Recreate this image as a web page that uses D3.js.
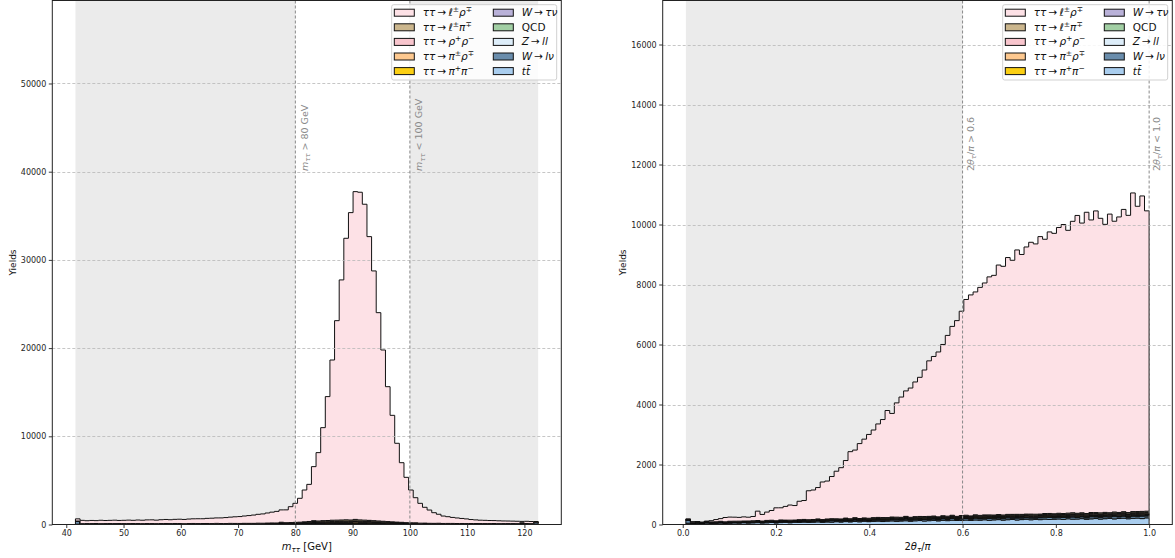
<!DOCTYPE html>
<html>
<head>
<meta charset="utf-8">
<script src="https://cdn.jsdelivr.net/npm/d3@7"></script>
<style>
  html, body { margin: 0; padding: 0; background: #fff; }
  svg { display: block; font-family: "DejaVu Sans", sans-serif; }
</style>
</head>
<body>
<svg id="chart" width="1175" height="558"></svg>
<script>
// ----------------------------------------------------------------------------
// Process definitions (legend order) and their fill colours
// ----------------------------------------------------------------------------
const processLabels = [
  [["ττ", "i"], ["\u2009→\u2009", ""], ["ℓ", "i"], ["±", "sup"], ["ρ", "i"], ["∓", "sup"]],
  [["ττ", "i"], ["\u2009→\u2009", ""], ["ℓ", "i"], ["±", "sup"], ["π", "i"], ["∓", "sup"]],
  [["ττ", "i"], ["\u2009→\u2009", ""], ["ρ", "i"], ["+", "sup"], ["ρ", "i"], ["−", "sup"]],
  [["ττ", "i"], ["\u2009→\u2009", ""], ["π", "i"], ["±", "sup"], ["ρ", "i"], ["∓", "sup"]],
  [["ττ", "i"], ["\u2009→\u2009", ""], ["π", "i"], ["+", "sup"], ["π", "i"], ["−", "sup"]],
  [["W", "i"], ["\u2009→\u2009", ""], ["τν", "i"]],
  [["QCD", ""]],
  [["Z", "i"], ["\u2009→\u2009", ""], ["ll", "i"]],
  [["W", "i"], ["\u2009→\u2009", ""], ["lν", "i"]],
  [["t", "i"], ["t\u0304", "i"]]
];
const processColors = [
  "#fde1e6", "#cbb68d", "#f8c5cd", "#fdc88f", "#fbcf13",
  "#b9b1d8", "#a2cfa4", "#ddedf9", "#6a8dac", "#a9cdee"
];
// stacking order from the bottom up (indices into the lists above)
const stackOrder = [9, 8, 7, 6, 5, 4, 3, 2, 1, 0];

// ----------------------------------------------------------------------------
// m_tautau histogram: 100 bins
// ----------------------------------------------------------------------------
const massRange = [41.6, 122.4];
const massBins = 100;
const massTicks = [40, 50, 60, 70, 80, 90, 100, 110, 120];
const massYTicks = [0, 10000, 20000, 30000, 40000, 50000];
const massYMax = 59410;
const massCuts = [80, 100];
const massCutLabels = [
  [["m", "i"], ["ττ", "isub"], [" > 80 GeV", ""]],
  [["m", "i"], ["ττ", "isub"], [" < 100 GeV", ""]]
];
const massAxisLabel = [["m", "i"], ["ττ", "isub"], [" [GeV]", ""]];

const massLRho = [
  245,376,328,359,325,384,350,364,389,352,
  375,395,365,405,385,415,425,395,435,455,
  440,470,490,480,510,530,550,540,580,610,
  620,640,680,710,750,780,830,880,940,1005,
  1055,1140,1225,1315,1400,1455,1802,2159,2708,3608,
  4208,6130,7750,10544,14047,18163,22614,27217,31922,34849,
  37161,37149,35815,32170,28314,23616,19419,15295,12076,8936,
  6761,5138,3716,2851,2246,1792,1503,1208,1019,841,
  763,680,630,570,530,450,410,380,370,350,
  330,320,300,290,280,270,160,250,240,70
];
const massLPi = [
  12,10,14,11,13,9,12,15,11,13, 10,14,12,11,15,13,10,12,14,11,
  13,15,12,10,14,16,13,12,15,14, 16,13,17,15,18,16,19,21,20,23,
  25,27,30,33,36,38,44,50,58,70, 82,95,108,120,132,140,148,152,158,150,
  162,155,148,140,128,116,104,92,80,68, 58,50,43,37,32,28,25,22,20,19,
  18,16,17,15,14,15,13,14,12,13, 12,11,13,12,10,12,11,13,10,12
];
const massRhoRho = [
  6,5,7,5,6,4,6,7,5,6, 5,7,6,5,7,6,5,6,7,5,
  6,7,6,5,7,8,6,6,7,7, 8,6,8,7,9,8,9,10,10,11,
  12,13,15,16,18,19,22,25,29,35, 41,47,54,60,66,70,74,76,79,75,
  81,77,74,70,64,58,52,46,40,34, 29,25,21,18,16,14,12,11,10,9,
  9,8,8,7,7,7,6,7,6,6, 6,5,6,6,5,6,5,6,5,6
];
const massPiRho = [
  5,6,5,7,5,6,5,6,7,5, 6,5,7,6,5,6,7,5,6,6,
  7,5,6,7,6,5,7,6,8,7, 7,8,7,9,8,9,10,9,11,12,
  12,14,15,17,18,20,23,26,30,36, 42,48,55,61,67,72,75,78,80,82,
  140,88,80,74,66,60,54,47,41,35, 30,25,22,19,16,14,12,11,10,9,
  9,8,8,7,7,6,7,6,6,6, 5,6,5,6,5,5,6,5,5,6
];
const massPiPi = [
  2,3,2,3,2,2,3,2,3,2, 3,2,2,3,2,3,2,3,2,2,
  3,2,3,3,2,3,2,3,3,3, 3,4,3,4,4,4,5,5,5,6,
  6,7,7,8,9,10,11,13,15,18, 21,24,27,30,33,35,37,38,40,38,
  41,39,37,35,32,29,26,23,20,17, 15,13,11,9,8,7,6,6,5,5,
  4,4,4,4,3,3,3,3,3,3, 3,3,2,3,3,2,3,3,2,3
];
const massWtau = [
  8,6,7,9,5,7,8,6,7,9, 6,8,7,5,8,7,6,9,7,8,
  6,7,8,9,7,6,8,7,9,8, 7,9,8,10,9,8,10,11,9,12,
  12,13,11,14,13,15,14,16,15,17, 16,18,17,19,18,17,19,18,20,18,
  19,17,18,16,17,15,16,14,13,12, 12,11,10,11,9,10,9,8,9,8,
  8,7,8,7,7,6,7,6,7,6, 6,7,5,6,6,5,6,5,6,5
];
const massQcd = [
  10,7,12,8,9,11,6,10,8,12, 9,7,11,10,8,12,9,7,10,11,
  8,12,9,10,7,11,8,10,12,9, 11,8,10,9,12,10,8,11,9,10,
  12,9,11,8,10,13,9,11,10,12, 9,11,8,12,10,9,13,11,8,10,
  12,9,11,10,8,12,10,9,11,8, 10,12,9,11,8,10,9,12,10,8,
  11,9,10,12,8,10,11,9,10,8, 12,9,10,11,8,10,9,11,10,12
];
const massZll = [
  4,5,3,6,4,5,4,3,5,4, 5,4,6,3,5,4,5,6,4,5,
  4,6,5,4,5,6,4,5,6,5, 6,5,7,6,7,8,9,10,12,14,
  16,19,22,26,30,35,40,45,51,57, 62,67,71,74,76,78,79,80,79,78,
  76,74,70,66,61,56,50,44,38,33, 28,24,20,17,14,12,10,9,8,7,
  7,6,6,5,5,5,4,5,4,5, 4,4,5,4,4,3,4,4,3,4
];
const massWlnu = [
  310,22,18,25,30,19,27,21,24,17, 28,20,26,23,19,31,22,18,27,24,
  20,29,23,18,26,21,25,30,19,22, 27,24,18,29,21,26,23,20,28,25,
  19,24,30,22,80,21,25,18,26,23, 29,90,24,27,22,28,19,25,23,30,
  21,26,24,20,28,22,27,19,25,24, 30,21,23,28,20,26,22,25,29,19,
  24,27,21,23,26,20,28,22,25,19, 27,23,21,26,24,22,120,30,25,180
];
const massTtbar = [
  38,30,34,27,41,33,29,36,31,40, 28,35,32,39,30,26,37,33,29,42,
  34,31,38,27,35,40,30,33,36,29, 41,32,28,37,34,30,39,33,27,36,
  31,38,35,29,42,33,30,37,28,34, 40,31,36,33,29,38,32,35,41,30,
  27,36,33,39,31,34,28,37,32,40, 35,29,33,38,30,36,31,27,39,34,
  32,37,30,35,28,41,33,36,29,34, 38,31,35,30,37,33,28,36,32,39
];

// ----------------------------------------------------------------------------
// 2 theta_tau / pi histogram: 100 bins
// ----------------------------------------------------------------------------
const angleRange = [0.0067, 1.0];
const angleBins = 100;
const angleTicks = [0, 0.2, 0.4, 0.6, 0.8, 1.0];
const angleYTicks = [0, 2000, 4000, 6000, 8000, 10000, 12000, 14000, 16000];
const angleYMax = 17467;
const angleCuts = [0.6, 1.0];
const angleCutLabels = [
  [["2", ""], ["θ", "i"], ["τ", "isub"], ["/", ""], ["π", "i"], [" > 0.6", ""]],
  [["2", ""], ["θ", "i"], ["τ", "isub"], ["/", ""], ["π", "i"], [" < 1.0", ""]]
];
const angleAxisLabel = [["2", ""], ["θ", "i"], ["τ", "isub"], ["/", ""], ["π", "i"]];

const angleLRho = [
  22,14,5,4,6,40,75,89,145,139,
  134,126,138,126,144,312,220,278,325,430,
  405,457,504,484,613,630,966,983,1046,1252,
  1264,1406,1586,1709,1918,2236,2254,2497,2625,2794,
  2921,3116,3268,3570,3452,3809,4008,4182,4309,4489,
  4638,4883,5184,5319,5495,5709,6026,6295,6525,6810,
  7192,7367,7430,7600,7731,7934,7989,8317,8289,8562,
  8469,8813,8663,8904,9061,9010,9250,9142,9385,9347,
  9527,9634,9427,9715,9928,9658,10042,9753,10056,9818,
  9601,9954,9692,9850,10076,9908,10622,10175,10515,10011
];
const angleLPi = [
  5,7,4,6,8,5,7,9,6,8, 9,7,10,8,11,9,12,10,11,13,
  12,14,11,13,15,12,16,14,13,17, 15,18,16,14,19,17,20,18,16,21,
  19,22,20,18,23,21,24,22,20,25, 23,26,22,27,24,21,28,25,23,29,
  26,24,30,27,25,31,28,26,32,29, 27,33,30,28,34,31,29,35,32,30,
  36,33,31,37,34,32,38,35,33,39, 36,34,40,37,35,41,38,36,42,39
];
const angleRhoRho = [
  3,4,2,3,5,3,4,3,5,4, 4,6,5,4,6,5,7,5,6,7,
  6,8,7,6,8,7,9,8,7,10, 9,8,10,9,11,10,9,12,10,11,
  12,11,13,12,11,14,12,13,14,12, 15,13,14,16,14,15,13,16,15,17,
  16,14,17,16,18,15,17,19,16,18, 17,19,18,16,20,18,19,17,21,19,
  18,20,22,19,21,20,18,22,21,23, 20,22,21,24,19,23,22,25,21,24
];
const anglePiRho = [
  3,2,4,3,2,4,3,5,4,3, 5,4,6,5,4,6,5,7,6,5,
  7,6,8,7,6,9,7,8,10,8, 9,11,9,10,12,10,11,13,11,12,
  14,12,13,15,13,14,16,14,15,17, 15,16,18,16,17,19,17,18,20,18,
  19,21,19,20,22,20,21,23,21,22, 24,22,23,25,23,24,26,24,25,27,
  25,26,28,26,27,29,27,28,30,28, 29,31,29,30,32,30,31,33,31,32
];
const anglePiPi = [
  2,1,2,2,1,3,2,2,3,2, 3,2,3,3,2,4,3,3,4,3,
  4,3,5,4,4,5,4,5,5,4, 6,5,5,6,5,7,6,6,7,6,
  7,6,8,7,7,8,7,8,8,7, 9,8,8,9,8,10,9,9,10,9,
  10,9,11,10,10,11,10,11,11,10, 12,11,11,12,11,13,12,12,13,12,
  13,12,14,13,13,14,13,14,14,13, 15,14,14,15,14,16,15,15,16,15
];
const angleWtau = [
  4,5,3,6,4,5,6,4,5,7, 5,6,4,7,6,5,7,6,8,5,
  7,6,8,7,6,9,7,8,6,9, 8,7,10,8,9,7,10,9,8,11,
  9,10,8,11,10,12,9,11,10,12, 11,10,13,11,12,10,13,12,11,14,
  12,13,11,14,12,15,13,12,14,13, 15,12,14,13,16,14,12,15,14,16,
  13,15,14,17,15,13,16,15,17,14, 16,15,18,14,17,16,15,18,16,17
];
const angleQcd = [
  8,6,9,5,7,10,6,8,7,9, 6,10,8,7,11,9,6,10,8,12,
  9,7,11,10,8,12,9,13,10,8, 12,11,9,13,10,14,11,9,12,13,
  10,14,12,11,15,12,10,14,13,11, 15,12,14,10,13,16,12,14,11,15,
  13,16,12,15,14,11,17,13,15,12, 16,14,13,17,12,15,14,18,13,16,
  15,12,17,14,16,13,18,15,14,17, 16,13,18,15,17,14,19,16,15,18
];
const angleZll = [
  5,4,6,3,5,4,6,5,4,6, 5,7,4,6,5,7,6,5,7,6,
  8,6,7,5,8,7,6,9,7,8, 7,9,8,6,9,8,10,7,9,8,
  10,9,8,11,9,10,8,11,10,9, 11,10,12,9,11,10,12,11,9,12,
  11,13,10,12,11,13,12,10,13,12, 14,11,13,12,14,13,11,14,13,15,
  12,14,13,15,12,14,16,13,15,14, 16,13,15,14,17,15,13,16,14,15
];
const angleWlnu = [
  95,18,22,15,26,20,17,24,19,28, 21,25,18,30,23,27,20,33,26,22,
  35,24,29,21,38,27,31,25,40,28, 33,45,29,36,42,31,48,35,39,30,
  44,37,50,33,41,47,36,52,40,45, 38,55,42,48,35,51,44,58,39,47,
  53,41,60,46,50,63,43,55,48,61, 45,66,52,49,58,44,62,51,70,47,
  57,64,49,72,53,60,46,68,55,59, 62,48,75,54,66,50,71,58,85,63
];
const angleTtbar = [
  42,31,36,28,45,33,39,47,35,41, 52,44,58,47,55,61,49,57,66,53,
  64,72,59,75,68,81,70,77,88,73, 85,79,94,83,97,88,102,91,108,96,
  104,115,99,112,121,107,118,126,110,124, 131,117,128,136,122,140,129,145,133,138,
  149,135,152,144,158,141,155,163,147,160, 168,151,164,175,158,171,162,180,167,176,
  185,170,191,178,183,195,174,189,198,181, 194,203,187,199,210,192,206,215,197,221
];

// series per process, in legend order
const massSeries = [massLRho, massLPi, massRhoRho, massPiRho, massPiPi,
                    massWtau, massQcd, massZll, massWlnu, massTtbar];
const angleSeries = [angleLRho, angleLPi, angleRhoRho, anglePiRho, anglePiPi,
                     angleWtau, angleQcd, angleZll, angleWlnu, angleTtbar];

// ----------------------------------------------------------------------------
// Drawing
// ----------------------------------------------------------------------------
const svg = d3.select("#chart");
const plotTop = 0.5, plotBottom = 524.5;

// append tspans with italic / sub- / superscript pieces
function rich(textSel, parts, fs) {
  let cur = 0;
  parts.forEach(([s, st]) => {
    const sup = st.includes("sup"), sub = st.includes("sub"), it = st.includes("i");
    const target = sup ? -0.38 * fs : sub ? 0.24 * fs : 0;
    textSel.append("tspan").text(s)
      .attr("dy", (target - cur).toFixed(2))
      .attr("font-size", (sup || sub) ? (fs * 0.72).toFixed(2) : fs)
      .attr("font-style", it ? "italic" : null);
    cur = target;
  });
  return textSel;
}

const panels = [
  { id: "mass", x0: 52.3, x1: 561.3, range: massRange, bins: massBins, series: massSeries,
    yMax: massYMax, xTicks: massTicks, yTicks: massYTicks, xFmt: d3.format("d"),
    cuts: massCuts, cutLabels: massCutLabels, cutLabelDx: 12.6, xLabel: massAxisLabel },
  { id: "angle", x0: 662.7, x1: 1172.3, range: angleRange, bins: angleBins, series: angleSeries,
    yMax: angleYMax, xTicks: angleTicks, yTicks: angleYTicks, xFmt: d3.format(".1f"),
    cuts: angleCuts, cutLabels: angleCutLabels, cutLabelDx: 11, xLabel: angleAxisLabel }
];

panels.forEach(p => {
  const span = p.range[1] - p.range[0];
  const x = d3.scaleLinear()
    .domain([p.range[0] - 0.05 * span, p.range[1] + 0.05 * span])
    .range([p.x0, p.x1]);
  const y = d3.scaleLinear().domain([0, p.yMax]).range([plotBottom, plotTop]);

  const clipId = "clip-" + p.id;
  svg.append("clipPath").attr("id", clipId)
    .append("rect").attr("x", p.x0).attr("y", plotTop)
    .attr("width", p.x1 - p.x0).attr("height", plotBottom - plotTop);

  const g = svg.append("g").attr("clip-path", `url(#${clipId})`);

  // shaded regions outside the selection window
  const shade = [[p.range[0], p.cuts[0]]];
  if (p.cuts[1] < p.range[1]) shade.push([p.cuts[1], p.range[1]]);
  g.selectAll("rect.shade").data(shade).join("rect")
    .attr("class", "shade")
    .attr("x", d => x(d[0])).attr("width", d => x(d[1]) - x(d[0]))
    .attr("y", plotTop).attr("height", plotBottom - plotTop)
    .attr("fill", "#ebebeb");

  // bin edges
  const width = span / p.bins;
  const edges = d3.range(p.bins + 1).map(i => p.range[0] + i * width);

  // stacked step histograms
  let lower = new Array(p.bins).fill(0);
  const area = d3.area()
    .curve(d3.curveStepAfter)
    .x(d => x(d.e))
    .y0(d => y(d.lo))
    .y1(d => y(d.hi));
  stackOrder.forEach(k => {
    const vals = p.series[k];
    const upper = lower.map((v, i) => v + vals[i]);
    const pts = edges.map((e, i) => {
      const j = Math.min(i, p.bins - 1);
      return { e, lo: lower[j], hi: upper[j] };
    });
    g.append("path")
      .attr("d", area(pts))
      .attr("fill", processColors[k])
      .attr("stroke", "#111")
      .attr("stroke-width", 1.0)
      .attr("stroke-linejoin", "miter");
    lower = upper;
  });

  // horizontal grid
  g.selectAll("line.grid").data(p.yTicks.filter(t => t > 0)).join("line")
    .attr("class", "grid")
    .attr("x1", p.x0).attr("x2", p.x1)
    .attr("y1", d => Math.round(y(d)) + 0.5).attr("y2", d => Math.round(y(d)) + 0.5)
    .attr("stroke", "#b8b8b8").attr("stroke-width", 0.8)
    .attr("stroke-dasharray", "3,2");

  // selection cut lines
  g.selectAll("line.cut").data(p.cuts).join("line")
    .attr("class", "cut")
    .attr("x1", d => x(d)).attr("x2", d => x(d))
    .attr("y1", plotTop).attr("y2", plotBottom)
    .attr("stroke", "#888").attr("stroke-width", 1)
    .attr("stroke-dasharray", "3,2");

  // cut annotations
  p.cuts.forEach((c, i) => {
    const tx = x(c) + p.cutLabelDx, ty = 171;
    const t = svg.append("text")
      .attr("transform", `translate(${tx},${ty}) rotate(-90)`)
      .attr("fill", "#8a8a8a")
      .attr("font-size", 9.5);
    rich(t, p.cutLabels[i], 9.5);
  });

  // axes
  const xAxis = d3.axisBottom(x).tickValues(p.xTicks).tickFormat(p.xFmt)
    .tickSize(3.5).tickSizeOuter(0).tickPadding(2.5);
  const yAxis = d3.axisLeft(y).tickValues(p.yTicks).tickFormat(d3.format("d"))
    .tickSize(3.5).tickSizeOuter(0).tickPadding(2.5);

  const gx = svg.append("g").attr("transform", `translate(0,${plotBottom})`).call(xAxis);
  const gy = svg.append("g").attr("transform", `translate(${p.x0},0)`).call(yAxis);
  [gx, gy].forEach(ga => {
    ga.select(".domain").remove();
    ga.selectAll("line").attr("stroke", "#222").attr("stroke-width", 0.9);
    ga.selectAll("text").attr("fill", "#262626").attr("font-size", 8)
      .attr("font-family", "DejaVu Sans, sans-serif");
  });

  // frame
  svg.append("rect")
    .attr("x", p.x0).attr("y", plotTop)
    .attr("width", p.x1 - p.x0).attr("height", plotBottom - plotTop)
    .attr("fill", "none").attr("stroke", "#222").attr("stroke-width", 1);

  // axis labels
  const xl = svg.append("text")
    .attr("x", (p.x0 + p.x1) / 2).attr("y", 550)
    .attr("text-anchor", "middle").attr("font-size", 10).attr("fill", "#111");
  rich(xl, p.xLabel, 10);
  svg.append("text")
    .attr("transform", `translate(${p.x0 - 36.5},${(plotTop + plotBottom) / 2}) rotate(-90)`)
    .attr("text-anchor", "middle").attr("font-size", 9).attr("fill", "#111")
    .text("Yields");

  // legend (two columns, five rows, upper right)
  const lw = 165, lh = 75.3;
  const lx = p.x1 - 4.6 - lw, ly = plotTop + 4.2;
  const lg = svg.append("g").attr("transform", `translate(${lx},${ly})`);
  lg.append("rect").attr("width", lw).attr("height", lh).attr("rx", 2)
    .attr("fill", "#fff").attr("fill-opacity", 0.85)
    .attr("stroke", "#cccccc").attr("stroke-width", 0.9);
  processLabels.forEach((lab, k) => {
    const col = Math.floor(k / 5), row = k % 5;
    const cy = 8 + row * 14.6;
    const px = 2.6 + col * 99;
    lg.append("rect")
      .attr("x", px).attr("y", cy - 3.5).attr("width", 20).attr("height", 7)
      .attr("fill", processColors[k]).attr("stroke", "#111").attr("stroke-width", 1);
    const t = lg.append("text")
      .attr("x", px + 28.5).attr("y", cy + 3.6)
      .attr("font-size", 10.5).attr("fill", "#111");
    rich(t, lab, 10.5);
  });
});
</script>
</body>
</html>
